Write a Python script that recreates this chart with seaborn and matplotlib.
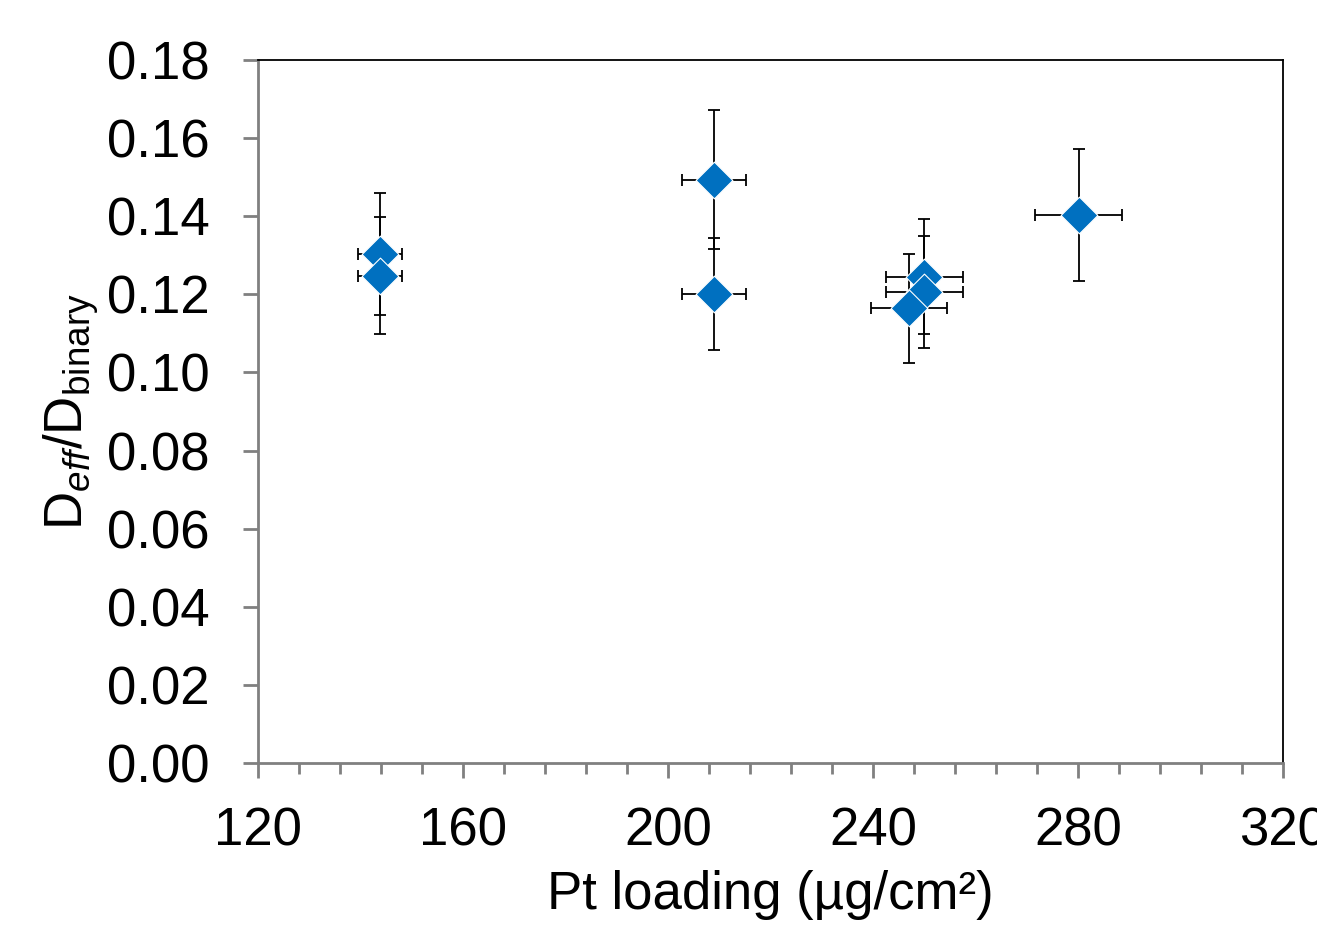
import matplotlib
matplotlib.use("Agg")
import matplotlib.pyplot as plt
import seaborn as sns
import pandas as pd
from matplotlib.ticker import MultipleLocator

# Data
pt_loading = [143.8, 143.8, 209.0, 209.0, 250.0, 250.0, 247.1, 280.1]
d_ratio = [0.1303, 0.1248, 0.1493, 0.1200, 0.1245, 0.1206, 0.1164, 0.1403]
d_ratio_err = [0.0156, 0.0150, 0.0178, 0.0143, 0.0147, 0.0143, 0.0140, 0.0168]
pt_loading_err = [4.3, 4.3, 6.3, 6.3, 7.5, 7.5, 7.4, 8.4]

x_ticks = [120, 160, 200, 240, 280, 320]
y_ticks = [0.00, 0.02, 0.04, 0.06, 0.08, 0.10, 0.12, 0.14, 0.16, 0.18]

df = pd.DataFrame({"x": pt_loading, "y": d_ratio})

sns.set_style("white")
plt.rcParams['font.family'] = ['Liberation Sans', 'DejaVu Sans']
plt.rcParams['mathtext.fontset'] = 'custom'
plt.rcParams['mathtext.rm'] = 'Liberation Sans'
plt.rcParams['mathtext.it'] = 'Liberation Sans:italic'
plt.rcParams['text.color'] = 'black'
plt.rcParams['axes.labelcolor'] = 'black'
plt.rcParams['xtick.labelcolor'] = 'black'
plt.rcParams['ytick.labelcolor'] = 'black'

fig = plt.figure(figsize=(13.17, 9.27), dpi=100)
ax = fig.add_axes([258/1317, 1-763/927, (1283-258)/1317, (763-60)/927])

ax.errorbar(pt_loading, d_ratio, yerr=d_ratio_err, xerr=pt_loading_err,
            fmt='none', ecolor='black', elinewidth=1.3, capsize=4,
            capthick=1.3, zorder=2)
sns.scatterplot(data=df, x="x", y="y", marker='D', s=350, color='#0070C0',
                edgecolor='white', linewidth=0.8, zorder=3, ax=ax, legend=False)

ax.set_xlim(120, 320)
ax.set_ylim(0, 0.18)
ax.set_xticks(x_ticks)
ax.set_xticklabels([str(v) for v in x_ticks])
ax.xaxis.set_minor_locator(MultipleLocator(8))
ax.set_yticks(y_ticks)
ax.set_yticklabels([f"{v:.2f}" for v in y_ticks])

for s in ['left', 'bottom']:
    ax.spines[s].set_color('#808080')
    ax.spines[s].set_linewidth(2)
for s in ['top', 'right']:
    ax.spines[s].set_color('black')
    ax.spines[s].set_linewidth(1.3)

ax.tick_params(axis='x', which='major', direction='out', length=11, width=2,
               color='#808080', labelsize=38, pad=20, bottom=True,
               labelcolor='black')
ax.tick_params(axis='x', which='minor', direction='out', length=8, width=2,
               color='#808080', bottom=True)
ax.tick_params(axis='y', which='major', direction='out', length=11, width=2,
               color='#808080', labelsize=38, pad=24, left=True,
               labelcolor='black')

ax.set_xlabel("Pt loading (µg/cm²)", fontsize=38, labelpad=10, color='black')
ax.set_ylabel(r"D$_{\it eff}$/D$_{\rm binary}$", fontsize=38, labelpad=4,
              color='black')

fig.savefig("out.png", dpi=100)
